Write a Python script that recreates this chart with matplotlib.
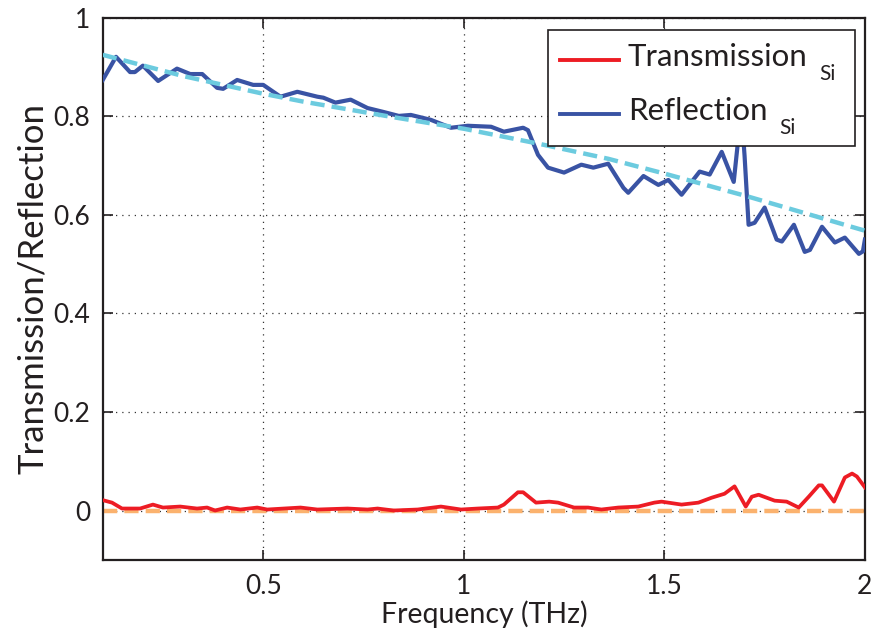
import matplotlib
matplotlib.use("Agg")
import matplotlib.pyplot as plt
from matplotlib.patches import Rectangle
from matplotlib.lines import Line2D

plt.rcParams['font.family'] = ['Lato', 'DejaVu Sans']

# Measured reflection of the Si sample
freq_r = [0.100, 0.133, 0.168, 0.180, 0.200, 0.238, 0.285, 0.318, 0.348, 0.385,
          0.400, 0.435, 0.475, 0.500, 0.543, 0.585, 0.635, 0.650, 0.680, 0.718,
          0.760, 0.800, 0.838, 0.868, 0.918, 0.968, 1.010, 1.068, 1.100, 1.148,
          1.160, 1.185, 1.210, 1.250, 1.293, 1.323, 1.360, 1.398, 1.410, 1.448,
          1.485, 1.510, 1.543, 1.588, 1.613, 1.643, 1.673, 1.685, 1.693, 1.700,
          1.710, 1.725, 1.750, 1.780, 1.793, 1.823, 1.850, 1.863, 1.893, 1.925,
          1.950, 1.985, 1.995, 2.000]
refl = [0.874, 0.921, 0.890, 0.890, 0.903, 0.872, 0.897, 0.886, 0.886, 0.858,
        0.856, 0.874, 0.864, 0.864, 0.840, 0.850, 0.840, 0.838, 0.828, 0.834,
        0.817, 0.809, 0.801, 0.803, 0.793, 0.777, 0.781, 0.779, 0.769, 0.777,
        0.772, 0.722, 0.696, 0.686, 0.702, 0.696, 0.704, 0.655, 0.645, 0.679,
        0.661, 0.671, 0.641, 0.688, 0.682, 0.728, 0.667, 0.760, 0.800, 0.720,
        0.580, 0.584, 0.615, 0.550, 0.546, 0.580, 0.525, 0.529, 0.576, 0.544,
        0.554, 0.521, 0.526, 0.550]

# Measured transmission of the Si sample
freq_t = [0.100, 0.123, 0.148, 0.193, 0.225, 0.250, 0.293, 0.335, 0.360, 0.380,
          0.410, 0.443, 0.485, 0.510, 0.593, 0.635, 0.710, 0.760, 0.785, 0.825,
          0.885, 0.943, 0.993, 1.035, 1.085, 1.100, 1.135, 1.148, 1.180, 1.213,
          1.235, 1.275, 1.310, 1.343, 1.385, 1.435, 1.475, 1.493, 1.543, 1.585,
          1.618, 1.650, 1.675, 1.703, 1.718, 1.735, 1.775, 1.805, 1.835, 1.860,
          1.885, 1.893, 1.923, 1.950, 1.968, 1.980, 2.000]
trans = [0.021, 0.016, 0.004, 0.004, 0.012, 0.006, 0.008, 0.004, 0.006, 0.000,
         0.006, 0.002, 0.006, 0.002, 0.006, 0.002, 0.004, 0.002, 0.004, 0.000,
         0.002, 0.008, 0.002, 0.004, 0.006, 0.012, 0.037, 0.037, 0.016, 0.018,
         0.016, 0.006, 0.006, 0.002, 0.006, 0.008, 0.016, 0.018, 0.012, 0.016,
         0.026, 0.034, 0.049, 0.008, 0.028, 0.032, 0.020, 0.018, 0.006, 0.028,
         0.051, 0.051, 0.018, 0.067, 0.075, 0.069, 0.047]

# Model curves
freq_rfit = [0.10, 0.30, 0.50, 0.60, 0.82, 1.00, 1.19, 1.36, 1.50, 1.71, 2.00]
refl_fit = [0.925, 0.882, 0.846, 0.830, 0.799, 0.775, 0.744, 0.714, 0.684, 0.637, 0.568]
freq_tfit = [0.10, 2.00]
trans_fit = [0.0, 0.0]

x_ticks = [0.5, 1.0, 1.5, 2.0]
x_ticklabels = ['0.5', '1', '1.5', '2']
y_ticks = [0, 0.2, 0.4, 0.6, 0.8, 1.0]
y_ticklabels = ['0', '0.2', '0.4', '0.6', '0.8', '1']
series_names = ['Transmission', 'Reflection']
subscript = 'Si'

ink = '#231f20'
c_trans = '#ed1c24'
c_refl = '#3953a4'

fig = plt.figure(figsize=(8.71, 6.39), dpi=100)
ax = fig.add_axes([0.118, 0.124, 0.875, 0.848])

ax.plot(freq_tfit, trans_fit, color='#fbb26e', lw=3.2, ls=(0, (3.2, 1.6)), zorder=2)
ax.plot(freq_t, trans, color=c_trans, lw=2.7, zorder=3)
ax.plot(freq_r, refl, color=c_refl, lw=3.0, zorder=3)
ax.plot(freq_rfit, refl_fit, color='#6ccbdf', lw=3.2, ls=(0, (3.2, 1.6)), zorder=4)

ax.set_xlim(0.1, 2.0)
ax.set_ylim(-0.1, 1.0)
ax.set_xticks(x_ticks)
ax.set_xticklabels(x_ticklabels)
ax.set_yticks(y_ticks)
ax.set_yticklabels(y_ticklabels)

ax.grid(True, color='#333333', ls=(0, (1, 4)), lw=0.9)
ax.tick_params(direction='in', top=True, right=True, length=7, width=1.2,
               labelsize=19, colors=ink)
ax.tick_params(axis='x', pad=10)
ax.tick_params(axis='y', pad=9)
for s in ax.spines.values():
    s.set_linewidth(1.6)
    s.set_color(ink)

ax.set_xlabel('Frequency (THz)', fontsize=20.5, color=ink, labelpad=1)
ax.set_ylabel('Transmission/Reflection', fontsize=25, color=ink, labelpad=3)

# Legend box (MATLAB-style, with lowered subscripts)
tr = ax.transAxes
ax.add_patch(Rectangle((0.584, 0.764), 0.403, 0.214, transform=tr,
                       facecolor='white', edgecolor=ink, lw=1.2,
                       zorder=10, clip_on=False))
entries = [(c_trans, 0.9225, 0.911),
           (c_refl, 0.823, 0.812)]
for name, (col, y_line, y_text) in zip(series_names, entries):
    ax.add_line(Line2D([0.600, 0.678], [y_line, y_line], transform=tr,
                       color=col, lw=2.8, zorder=11, clip_on=False))
    t = ax.text(0.689, y_text, name, transform=tr, fontsize=22.5, color=ink,
                ha='left', va='baseline', zorder=11)
    ax.annotate(subscript, xy=(1, 0), xycoords=t, xytext=(12, -9),
                textcoords='offset pixels', fontsize=15, color=ink,
                ha='left', va='baseline', zorder=11)

fig.savefig('out.png', dpi=100)
